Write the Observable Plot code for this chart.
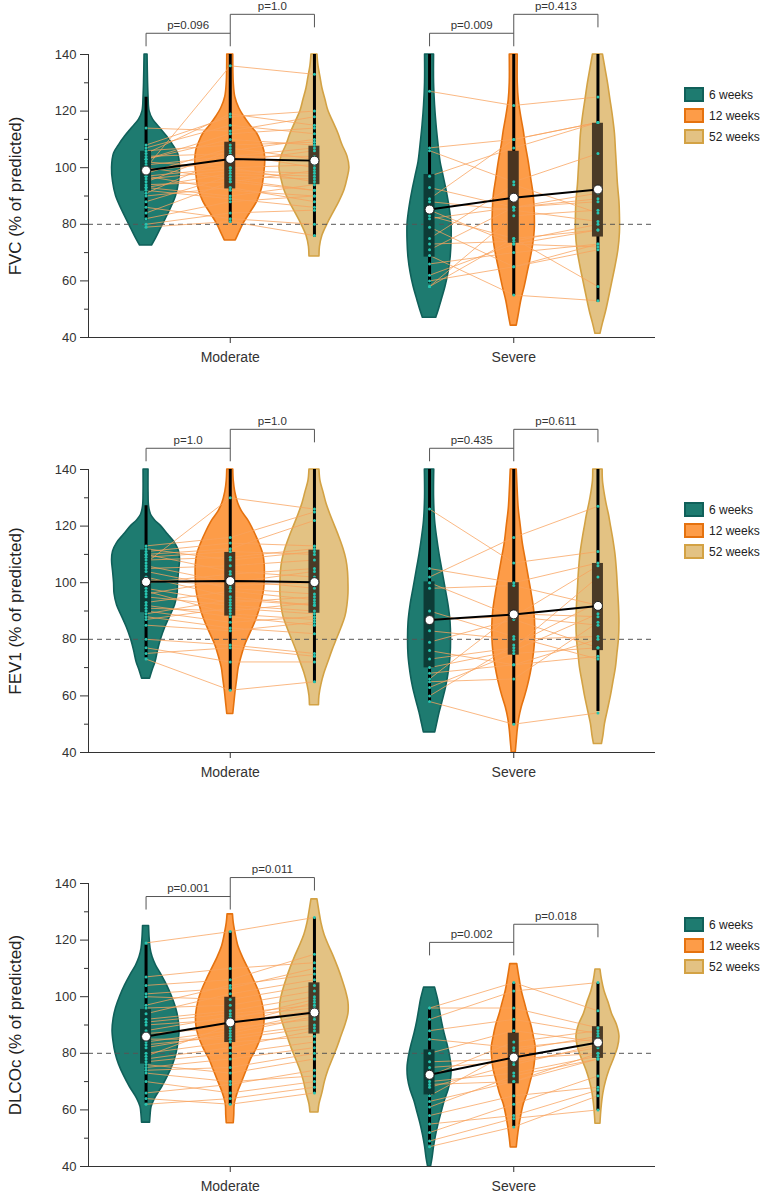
<!DOCTYPE html>
<html>
<head>
<meta charset="utf-8">
<script src="https://cdn.jsdelivr.net/npm/d3@7"></script>
<script src="https://cdn.jsdelivr.net/npm/@observablehq/plot@0.6"></script>
<style>
  body { margin: 0; background: #fff; font-family: "Liberation Sans", Arial, sans-serif; overflow: hidden; }
  .panel { position: relative; width: 762px; }
  .legend { position: absolute; left: 684px; top: 87px; font-size: 12px; color: #222; white-space: nowrap; width: 78px; }
  .legend .row { display: flex; align-items: center; height: 15px; }
  .sw { box-sizing: border-box; flex: none; width: 20px; height: 15px; border: 2px solid; margin-right: 5px; }
</style>
</head>
<body>
<div id="root"></div>
<script>
// ---------------- DATA ----------------
const groups = ["Moderate", "Severe"];
const times = ["6 weeks", "12 weeks", "52 weeks"];
const yTicks = [40, 60, 80, 100, 120, 140];
const yMinorTicks = [50, 70, 90, 110, 130];
const refValue = 80;
const panelTitles = ["FVC (% of predicted)", "FEV1 (% of predicted)", "DLCOc (% of predicted)"];

// p-values: Moderate 6→12, 12→52, Severe 6→12, 12→52
const fvcP = ["p=0.096", "p=1.0", "p=0.009", "p=0.413"];
const fev1P = ["p=1.0", "p=1.0", "p=0.435", "p=0.611"];
const dlcoP = ["p=0.001", "p=0.011", "p=0.002", "p=0.018"];

// violin density profiles [value, half-width density] (6, 12, 52 weeks)
const fvcModShapes = [
  [[72.5,6],[75,10],[80,17],[85,24],[90,30],[95,33],[100,34],[105,32],[108,27],[111,21],[114,14],[117,7],[120,3.5],[125,2.5],[130,2],[140,1.5]],
  [[74.3,5.5],[77,9],[80,13],[84,20],[88,27],[93,32],[98,34],[102,35],[106,34],[109,31],[112,27],[115,20],[118,14],[121,9],[125,5],[130,3.5],[140,3]],
  [[68.6,5],[72,5.5],[76,8],[80,13],[84,19],[88,25],[92,30],[96,33],[100,35],[104,33],[108,28],[112,24],[116,19],[120,14],[124,11],[128,8],[132,6],[136,4],[140,3]]
];
const fvcSevShapes = [
  [[47,6.7],[50,9.5],[53,12],[58,16],[63,19],[68,21],[74,22],[80,22],[86,20],[92,17],[97,14],[102,11],[108,9],[115,7],[122,5.5],[130,4.5],[140,4.5]],
  [[44.2,3],[48,5],[53,7.5],[58,11],[63,14],[68,17],[73,19.5],[78,21],[84,21],[90,20],[96,17.5],[102,15],[108,12],[113,10],[118,7.5],[124,5],[130,4],[140,4]],
  [[41.3,2.5],[45,5],[49,8],[53,10.5],[59,14],[65,17.5],[71,20.5],[77,22],[83,22],[88,21.5],[94,20],[100,19],[106,18],[112,17],[118,15],[124,12.5],[130,10],[135,7.5],[140,5]]
];
const fev1ModShapes = [
  [[66.1,4],[69,6.5],[72,9.5],[76,12],[80,15],[84,19],[88,24],[92,29],[96,31.5],[100,32],[104,33],[108,34],[111,33],[114,29],[117,22],[120,15],[122,9],[124,5],[127,3],[132,2.5],[140,2.5]],
  [[53.6,3],[57,4],[62,5.5],[66,7],[70,8.5],[74,11.5],[78,15],[82,20],[86,25],[90,29],[94,32],[98,34],[102,34.5],[106,34.5],[110,33],[114,29],[118,24],[122,18],[125,12],[128,8],[132,5],[136,3.5],[140,3]],
  [[56.7,4.5],[60,5],[64,7],[68,10],[72,14],[76,18],[80,22.5],[84,27],[88,31],[92,33],[96,34],[100,34],[104,33.5],[108,32],[112,29],[116,25],[120,20.5],[124,16],[128,12],[132,9],[136,6],[140,5]]
];
const fev1SevShapes = [
  [[47.1,5.7],[50,7.5],[54,10],[58,13],[63,16.5],[68,19],[74,21],[80,21.5],[86,21],[92,19],[98,16],[104,13],[110,10],[116,7.5],[122,5.5],[130,4.5],[140,4.7]],
  [[40,2],[44,3],[48,4],[52,5.5],[56,8],[60,11.5],[64,14.5],[68,17],[72,19],[78,21],[84,21.5],[90,20.5],[96,18],[102,15],[108,12],[114,9],[120,7],[126,5],[132,4],[140,3]],
  [[43,4],[46,5.5],[50,7],[55,10],[60,13],[65,15.5],[70,18],[75,19.5],[80,21],[86,21.5],[92,21],[98,20],[104,19],[110,17.5],[116,15],[120,13],[124,11],[128,8.5],[132,6.5],[136,5],[140,4.7]]
];
const dlcoModShapes = [
  [[55.5,4],[58,4.5],[61,5.5],[64,9],[68,16],[72,22],[76,27],[80,30.5],[84,32.5],[88,33.5],[92,32.5],[96,30],[100,26],[104,21],[108,15],[111,10],[114,6.5],[117,4.5],[121,3.5],[125,3]],
  [[55.3,3.5],[58,4],[62,4.5],[66,7.5],[70,12],[74,16.5],[78,21],[82,27],[86,31.5],[90,34],[94,34],[98,32],[102,28.5],[106,23.5],[110,18],[114,12.5],[118,8],[122,5.5],[126,3.5],[129.1,2.7]],
  [[59.1,4],[62,5],[66,8],[70,10.5],[74,14],[78,18.5],[82,23],[86,27],[90,31],[94,34],[98,34],[102,31.5],[106,28],[110,24],[114,19.5],[118,14.5],[122,10],[126,7],[130,5],[134.4,3]]
];
const dlcoSevShapes = [
  [[40,1.5],[43,3],[47,4.5],[51,6.5],[55,9],[59,12],[63,15],[67,19],[71,21.5],[75,22],[79,20.5],[83,18],[87,15],[91,12.5],[95,10.5],[99,8.5],[103.2,5.5]],
  [[46.7,3],[50,4],[54,5.5],[58,7.5],[62,10],[66,14],[70,17],[74,20],[78,21.5],[82,22],[86,20],[90,17.5],[94,14],[98,11],[102,8],[106,6],[111.5,3.5]],
  [[55.1,2.5],[58,3],[62,4],[66,5.5],[70,8],[74,11.5],[78,16],[82,20],[86,21.5],[90,19],[94,14],[98,10.5],[102,6.5],[106,4],[109.6,2.5]]
];

// box statistics, order: Mod 6, Mod 12, Mod 52, Sev 6, Sev 12, Sev 52
const fvcQ1 = [91.7, 92.5, 94, 68.4, 73.3, 75.5];
const fvcQ3 = [105.8, 109, 107.6, 97.6, 105.8, 115.7];
const fvcLo = [81.3, 80.5, 75.5, 59, 54.8, 52.5];
const fvcHi = [124.9, 140, 140, 140, 140, 140];
const fvcMean = [99, 103.1, 102.5, 85.2, 89.4, 92.3];

const fev1Q1 = [89.4, 88.2, 89.2, 69.9, 74.4, 76];
const fev1Q3 = [111.5, 110.7, 111.5, 100.3, 100, 106.8];
const fev1Lo = [73.5, 61.9, 64.6, 58.1, 50, 54.5];
const fev1Hi = [127.2, 140, 140, 140, 140, 140];
const fev1Mean = [100.3, 100.6, 100.2, 86.8, 88.8, 91.8];

const dlcoQ1 = [76.2, 83.8, 86.8, 65.3, 69.2, 78.2];
const dlcoQ3 = [95.5, 99.8, 104.9, 81.2, 87.1, 89.4];
const dlcoLo = [62.4, 61.8, 65.9, 47.6, 54.1, 59.8];
const dlcoHi = [118.2, 122.9, 127.9, 95.9, 104.7, 104.7];
const dlcoMean = [85.9, 90.9, 94.4, 72.4, 78.5, 83.8];

// individual patients (6, 12, 52 weeks)
const fvcMod6  = [114, 107, 106, 105, 104, 103, 102, 101, 100, 100, 99, 98, 97, 96, 95, 94, 93, 92, 91, 90, 88, 86, 84, 82, 80, 79, 108, 103, 97, 93];
const fvcMod12 = [113, 115, 108, 119, 105, 110, 100, 104, 136, 96, 102, 107, 92, 99, 106, 95, 98, 89, 104, 93, 97, 82, 95, 88, 84, 81, 118, 112, 100, 90];
const fvcMod52 = [118, 112, 109, 115, 100, 108, 95, 104, 133, 92, 106, 103, 90, 98, 110, 92, 97, 86, 107, 88, 96, 80, 99, 90, 85, 76, 120, 114, 101, 94];
const fvcSev6  = [127, 107, 106, 97, 93, 88, 85, 83, 82, 79, 75, 73, 69, 62, 60, 58, 58, 89, 71, 66];
const fvcSev12 = [122, 110, 95, 107, 86, 85, 73, 75, 86, 65, 94, 74, 55, 73, 65, 75, 83, 110, 86, 70];
const fvcSev52 = [125, 116, 105, 116, 91, 81, 72, 58, 89, 71, 84, 80, 53, 78, 73, 78, 85, 116, 88, 73];

const fev1Mod6  = [113, 112, 111, 110, 109, 108, 107, 106, 105, 104, 102, 100, 98, 96, 95, 93, 92, 91, 90, 89, 88, 87, 85, 80, 77, 75, 73, 101, 97, 110];
const fev1Mod12 = [116, 108, 114, 104, 111, 109, 130, 100, 106, 98, 95, 103, 93, 101, 92, 97, 88, 90, 86, 94, 84, 91, 83, 78, 72, 77, 62, 99, 89, 112];
const fev1Mod52 = [125, 111, 113, 102, 110, 112, 126, 104, 108, 96, 92, 105, 95, 98, 90, 94, 85, 93, 88, 92, 82, 89, 86, 75, 72, 74, 65, 100, 87, 122];
const fev1Sev6  = [126, 105, 102, 98, 87, 83, 79, 73, 70, 68, 65, 63, 60, 58, 100, 90, 76, 66];
const fev1Sev12 = [107, 100, 116, 99, 88, 80, 87, 77, 76, 71, 66, 75, 78, 50, 88, 81, 71, 89];
const fev1Sev52 = [111, 107, 127, 92, 85, 81, 77, 102, 89, 74, 86, 77, 93, 54, 106, 73, 80, 88];

const dlcoMod6  = [119, 107, 104, 101, 100, 97, 96, 94, 92, 91, 90, 88, 87, 86, 85, 84, 83, 82, 80, 79, 78, 77, 76, 75, 74, 73, 70, 66, 64, 62];
const dlcoMod12 = [123, 110, 106, 103, 99, 104, 97, 101, 95, 94, 92, 93, 89, 91, 85, 88, 86, 87, 84, 90, 82, 80, 73, 78, 75, 70, 66, 69, 62, 64];
const dlcoMod52 = [128, 112, 115, 110, 104, 108, 102, 106, 100, 97, 99, 96, 92, 95, 89, 94, 90, 93, 86, 98, 88, 84, 78, 82, 80, 72, 70, 74, 66, 68];
const dlcoSev6  = [96, 96, 92, 88, 85, 80, 77, 75, 72, 70, 69, 68, 65, 63, 61, 58, 55, 52, 49, 47];
const dlcoSev12 = [105, 96, 102, 92, 82, 88, 78, 77, 84, 73, 70, 76, 81, 70, 72, 65, 58, 62, 57, 54];
const dlcoSev52 = [95, 89, 105, 87, 85, 84, 80, 82, 88, 79, 78, 83, 86, 80, 78, 68, 67, 72, 60, 65];

// ---------------- STYLE / LAYOUT ----------------
const fills = ["#1e7b70", "#fd9c48", "#e3c283"];
const strokes = ["#10605a", "#e5720f", "#d3a244"];
const boxFills = ["#0d3b36", "#4a3420", "#4a3a26"];
const FONT = "'Liberation Sans', Arial, sans-serif";

const panels = [
  {title: panelTitles[0], shapes: [fvcModShapes, fvcSevShapes], q1: fvcQ1, q3: fvcQ3, lo: fvcLo, hi: fvcHi, mean: fvcMean,
   pats: [[fvcMod6, fvcMod12, fvcMod52], [fvcSev6, fvcSev12, fvcSev52]], pvals: fvcP,
   brackets: [[147.5, 154.2], [147.5, 154.2]], height: 415, mt: 54, mb: 78},
  {title: panelTitles[1], shapes: [fev1ModShapes, fev1SevShapes], q1: fev1Q1, q3: fev1Q3, lo: fev1Lo, hi: fev1Hi, mean: fev1Mean,
   pats: [[fev1Mod6, fev1Mod12, fev1Mod52], [fev1Sev6, fev1Sev12, fev1Sev52]], pvals: fev1P,
   brackets: [[147.5, 154.2], [147.5, 154.2]], height: 415, mt: 54, mb: 78},
  {title: panelTitles[2], shapes: [dlcoModShapes, dlcoSevShapes], q1: dlcoQ1, q3: dlcoQ3, lo: dlcoLo, hi: dlcoHi, mean: dlcoMean,
   pats: [[dlcoMod6, dlcoMod12, dlcoMod52], [dlcoSev6, dlcoSev12, dlcoSev52]], pvals: dlcoP,
   brackets: [[135.4, 142.1], [119.2, 125.6]], height: 366, mt: 53, mb: 30}
];

const W = 762, ML = 88, MR = 107;
const k = 2 / (W - ML - MR);          // x units per pixel
const pos = (g, t) => 0.5 + g + (t - 1) * 0.297;
const boxHalf = 5.5 * k;
const tickDrop = 4.6;

function makePanel(cfg) {
  const violins = [];
  cfg.shapes.forEach((sh, g) => sh.forEach((prof, t) => prof.forEach(([y, w]) =>
    violins.push({id: g * 3 + t, t, y, x1: pos(g, t) - w * k, x2: pos(g, t) + w * k}))));

  const stats = cfg.q1.map((_, i) => {
    const g = Math.floor(i / 3), t = i % 3;
    return {g, t, x: pos(g, t), q1: cfg.q1[i], q3: cfg.q3[i], lo: cfg.lo[i], hi: cfg.hi[i], mean: cfg.mean[i]};
  });

  const pts = [];
  cfg.pats.forEach((arrs, g) => arrs[0].forEach((_, i) => {
    for (let t = 0; t < 3; t++) pts.push({id: g * 1000 + i, g, t, x: pos(g, t), y: arrs[t][i]});
  }));

  const segs = [], labels = [];
  cfg.brackets.forEach(([b1, b2], g) => {
    const a = pos(g, 0), b = pos(g, 1), c = pos(g, 2);
    segs.push({x1: a, x2: b, y1: b1, y2: b1});
    segs.push({x1: a, x2: a, y1: b1, y2: b1 - tickDrop});
    segs.push({x1: b, x2: b, y1: b2, y2: b1 - tickDrop});
    segs.push({x1: b, x2: c, y1: b2, y2: b2});
    segs.push({x1: c, x2: c, y1: b2, y2: b2 - tickDrop});
    labels.push({x: (a + b) / 2, y: b1, text: cfg.pvals[g * 2]});
    labels.push({x: (b + c) / 2, y: b2, text: cfg.pvals[g * 2 + 1]});
  });

  return Plot.plot({
    width: W, height: cfg.height,
    marginLeft: ML, marginRight: MR, marginTop: cfg.mt, marginBottom: cfg.mb,
    x: {domain: [0, 2]},
    y: {domain: [40, 140]},
    color: {type: "identity"},
    style: {fontFamily: FONT, fontSize: "13px", color: "#333", background: "white", overflow: "visible"},
    marks: [
      Plot.areaX(violins, {y: "y", x1: "x1", x2: "x2", z: "id", fill: d => fills[d.t],
        stroke: d => strokes[d.t], strokeWidth: 1.6, curve: "catmull-rom"}),
      Plot.ruleY([refValue], {stroke: "#555", strokeWidth: 1, strokeDasharray: "5,4"}),
      Plot.line(pts, {x: "x", y: "y", z: "id", stroke: "#f8a25c", strokeWidth: 0.9, strokeOpacity: 0.85}),
      Plot.ruleX(stats, {x: "x", y1: "lo", y2: "hi", stroke: "#000", strokeWidth: 3}),
      Plot.rect(stats, {x1: d => d.x - boxHalf, x2: d => d.x + boxHalf, y1: "q1", y2: "q3", fill: d => boxFills[d.t]}),
      Plot.dot(pts, {x: "x", y: "y", r: 1.5, fill: "#27c4b0", stroke: "none"}),
      Plot.line(stats, {x: "x", y: "mean", z: "g", stroke: "#000", strokeWidth: 2}),
      Plot.dot(stats, {x: "x", y: "mean", r: 4.5, fill: "#fff", stroke: "#222", strokeWidth: 1}),
      Plot.link(segs, {x1: "x1", y1: "y1", x2: "x2", y2: "y2", stroke: "#555", strokeWidth: 1}),
      Plot.text(labels, {x: "x", y: "y", text: "text", dy: -8, fontSize: 11.5, fill: "#333"}),
      Plot.ruleX([0], {y1: 40, y2: 140, stroke: "#333", strokeWidth: 1}),
      Plot.ruleY([40], {stroke: "#333", strokeWidth: 1}),
      Plot.axisY(yTicks, {tickSize: 8, tickPadding: 4, fontSize: 13, label: null, stroke: "#333", fill: "#333"}),
      Plot.axisY(yMinorTicks, {tickSize: 4, tickFormat: () => "", label: null, stroke: "#333"}),
      Plot.axisX([0.5, 1.5], {tickSize: 6, tickPadding: 9, fontSize: 14, label: null, stroke: "#333", fill: "#333",
        tickFormat: d => groups[Math.round(d - 0.5)]}),
      Plot.text([cfg.title], {text: d => d, frameAnchor: "left", textAnchor: "middle", dx: -73, rotate: -90, fontSize: 17, fill: "#222"})
    ]
  });
}

const root = document.getElementById("root");
panels.forEach(cfg => {
  const div = document.createElement("div");
  div.className = "panel";
  div.appendChild(makePanel(cfg));
  const leg = document.createElement("div");
  leg.className = "legend";
  times.forEach((t, i) => {
    const row = document.createElement("div");
    row.className = "row";
    row.style.marginTop = i === 0 ? "0px" : "6px";
    const sw = document.createElement("div");
    sw.className = "sw";
    sw.style.background = fills[i];
    sw.style.borderColor = strokes[i];
    const lab = document.createElement("span");
    lab.textContent = t;
    row.appendChild(sw);
    row.appendChild(lab);
    leg.appendChild(row);
  });
  div.appendChild(leg);
  root.appendChild(div);
});
</script>
</body>
</html>
